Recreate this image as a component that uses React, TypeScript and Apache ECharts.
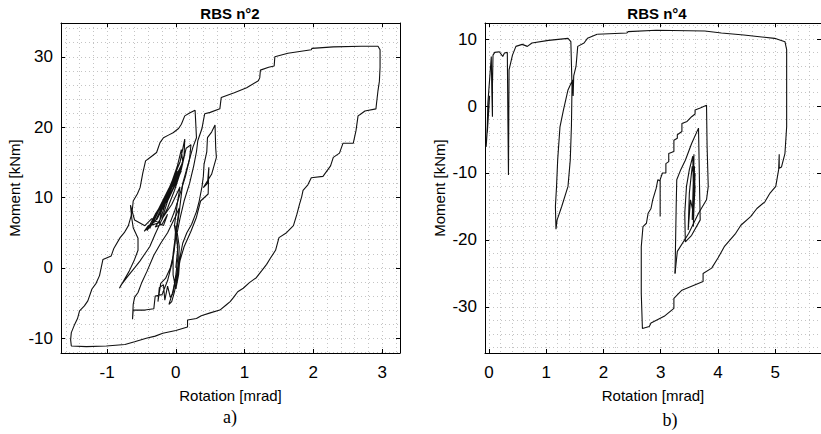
import React, { useEffect, useRef } from 'react';
import * as echarts from 'echarts';

// ---------- RBS n°2 (left) : [rotation mrad, moment kNm] ----------
const rbs2EarlyCycles: number[][] = [
  [0, 0], [0.03, 3], [-0.02, 6], [0.02, 9], [0.06, 11.5], [-0.06, 9], [-0.2, 7], [-0.12, 9.5],
  [0.0, 12], [0.08, 13.8], [-0.08, 10.5], [-0.28, 6.8], [-0.2, 8.5], [-0.06, 11.5], [0.04, 13.2],
  [0.1, 14.8], [-0.04, 12], [-0.18, 9.6], [-0.34, 6.2], [-0.28, 7.6], [-0.14, 10.2], [-0.02, 12.6],
  [0.08, 14.3], [-0.1, 11.3], [-0.26, 8.2], [-0.38, 5.6], [-0.3, 7.2], [-0.18, 9.4], [-0.06, 12.2],
  [0.06, 15], [0.13, 18.3], [0.12, 16], [0.04, 13], [-0.12, 10.4], [-0.3, 7.6], [-0.42, 5.3],
  [-0.34, 6.4], [-0.22, 8.8], [-0.1, 11], [0.02, 13.8], [-0.14, 10], [-0.3, 6.6], [-0.4, 6.0],
  [-0.46, 5.2], [-0.38, 6.0], [-0.24, 6.4], [-0.2, 8.6], [-0.08, 11.6], [0.02, 14.4], [0.08, 16.8],
  [0.1, 15], [0.0, 13], [-0.16, 10], [-0.24, 8.2], [-0.16, 9.0], [-0.04, 11.8], [0.04, 13.6],
  [-0.1, 10.8], [-0.22, 7.0], [-0.3, 5.8], [-0.2, 6.2], [-0.12, 7.6], [-0.18, 6.0], [-0.35, 7],
  [-0.45, 6.0], [-0.6, 6.8], [-0.66, 8.9],
  [-0.64, 7.0], [-0.62, 5.7], [-0.55, 4.2], [-0.55, 2.5], [-0.6, 1.2], [-0.68, -0.5], [-0.74, -1.5],
  [-0.82, -2.9], [-0.8, -2.5], [-0.7, -1.2], [-0.6, 0], [-0.52, 1.0], [-0.45, 2.0], [-0.38, 3.0],
  [-0.3, 4.8], [-0.22, 6.5], [-0.12, 8.5], [-0.02, 11], [0.08, 14], [0.15, 17], [0.22, 17.5],
  [0.2, 15.5], [0.1, 12], [0.05, 8], [0.0, 4.5], [-0.03, 2], [-0.08, 0],
];

const rbs2LowerCycles: number[][] = [
  [-0.08, 0], [-0.15, -1.5], [-0.22, -2.2], [-0.26, -4.8], [-0.24, -2.8], [-0.18, -2.4],
  [-0.16, -4.6], [-0.12, -2.6], [-0.08, -4.2], [-0.04, -3.6], [0.0, -1.0], [0.03, 1.5], [0.02, 3.5],
  [0.0, 6], [-0.02, 3], [-0.06, 0.5], [-0.12, -1.8], [-0.2, -3.8], [-0.3, -4.0], [-0.32, -5.8],
  [-0.45, -6.0], [-0.62, -6.0], [-0.63, -7.3], [-0.62, -5.2], [-0.6, -4.2], [-0.55, -3.5],
  [-0.5, -2.2], [-0.42, -0.5], [-0.32, 1.8], [-0.22, 3.5], [-0.12, 5], [-0.02, 7], [0.05, 8.5],
  [0.0, 5], [-0.04, 2], [-0.04, -1], [0.0, -3],
];

const rbs2MediumCycle: number[][] = [
  [0.0, -3], [0.04, -1], [0.06, 1.5], [0.1, 3.5], [0.16, 5], [0.23, 6.2], [0.3, 8], [0.34, 9.5],
  [0.38, 11.5], [0.4, 13], [0.41, 14.7], [0.45, 16.5], [0.46, 18.5], [0.52, 19.3], [0.57, 20.3],
  [0.58, 17], [0.59, 15.7], [0.52, 13.3], [0.4, 11.4], [0.46, 12], [0.48, 14.3], [0.47, 10.5],
  [0.36, 9.5], [0.3, 7.2], [0.22, 5.2], [0.12, 3.0], [0.06, 1.0], [0.02, -1.2], [-0.02, -3.4],
  [-0.06, -4.8], [-0.1, -5.2], [-0.05, -3.6], [0.0, -1.5], [0.04, 0.8], [0.05, 3.0], [0.02, 5.0],
];

const rbs2LargeCycle: number[][] = [
  [0.02, 5.0], [0.06, 7], [0.12, 9.5], [0.2, 12], [0.26, 14.5], [0.3, 16.5], [0.32, 18.1],
  [0.38, 19.8], [0.4, 20.9], [0.42, 21.9], [0.5, 22.1], [0.64, 22.6], [0.66, 24.2], [0.85, 24.9],
  [1.03, 25.6], [1.2, 26.6], [1.22, 27.0], [1.23, 28.1], [1.35, 28.5], [1.43, 28.7], [1.44, 30.0],
  [1.63, 30.5], [1.97, 31.0], [1.98, 31.2], [2.29, 31.4], [2.7, 31.5], [2.94, 31.5], [2.97, 31.0],
  [2.97, 28.5], [2.96, 26.5], [2.94, 25.2], [2.92, 23.5], [2.91, 22.6], [2.75, 22.3], [2.68, 21.8],
  [2.65, 21.6], [2.62, 19.5], [2.58, 17.7], [2.43, 17.7], [2.38, 16.3], [2.29, 15.7], [2.25, 14.5],
  [2.14, 13.0], [1.97, 12.8], [1.92, 11.8], [1.85, 11.0], [1.83, 10.1], [1.80, 9.1], [1.76, 7.6],
  [1.71, 6.0], [1.61, 5.0], [1.5, 4.3], [1.45, 2.5], [1.37, 1.3], [1.32, 0.5], [1.25, -0.4],
  [1.17, -1.4], [1.07, -2.1], [0.98, -2.9], [0.9, -3.4], [0.84, -4.2], [0.79, -4.8], [0.74, -5.2],
  [0.64, -6.0], [0.5, -6.4], [0.37, -6.8], [0.3, -7.2], [0.17, -7.4], [0.17, -8.4], [0.0, -8.9],
  [-0.19, -9.3], [-0.3, -9.7], [-0.43, -10.0], [-0.6, -10.5], [-0.74, -10.9], [-1.01, -11.1],
  [-1.3, -11.2], [-1.52, -11.1], [-1.53, -10.2], [-1.52, -9.2], [-1.47, -8.0], [-1.43, -7.2],
  [-1.40, -6.1], [-1.33, -5.4], [-1.28, -4.7], [-1.22, -3.0], [-1.16, -2.2], [-1.11, -1.1],
  [-1.06, 1.2], [-0.94, 1.7], [-0.9, 2.8], [-0.81, 4.3], [-0.75, 5.0], [-0.69, 6.0], [-0.65, 7.4],
  [-0.63, 8.5], [-0.62, 9.5], [-0.56, 10.5], [-0.52, 11.4], [-0.48, 13.5], [-0.44, 15.2],
  [-0.36, 15.8], [-0.28, 16.4], [-0.23, 17.8], [-0.18, 18.5], [-0.1, 18.9], [-0.04, 19.2],
  [0.04, 19.8], [0.08, 20.4], [0.13, 21.6], [0.2, 22.0], [0.28, 22.4], [0.29, 20.5], [0.30, 18.5],
  [0.25, 17.2], [0.2, 15.5], [0.14, 13], [0.06, 10.5], [-0.02, 8], [-0.08, 6.5],
];

// ---------- RBS n°4 (right) ----------
const rbs4FirstCycles: number[][] = [
  [0, 0], [-0.03, -4], [0.01, 1.5], [-0.05, -6.1], [-0.03, -3], [-0.02, 0.4], [0.01, 3.9],
  [0.04, 7.4], [0.05, 2], [0.06, -1.6], [0.06, 3], [0.07, 7.6], [0.10, 8.0], [0.18, 8.1],
  [0.24, 7.4], [0.27, 7.9], [0.32, 8.0], [0.33, -2], [0.34, -10.3], [0.35, 5.4], [0.41, 7.6],
  [0.47, 8.9], [0.58, 9.2], [0.67, 8.9], [0.75, 9.4], [1.04, 9.8], [1.38, 10.1], [1.43, 9.6],
  [1.45, 2.9], [1.44, -3], [1.42, -8], [1.38, -12], [1.27, -15], [1.19, -17], [1.17, -18.4],
  [1.16, -15], [1.18, -12], [1.2, -8], [1.24, -3.1], [1.30, -0.6], [1.38, 2.4], [1.46, 3.9],
  [1.47, 1.5], [1.48, 4.5], [1.52, 5.9], [1.55, 8.9], [1.66, 9.4], [1.72, 10.1], [1.89, 10.7],
];

const rbs4LargeCycle: number[][] = [
  [1.89, 10.7], [2.41, 10.9], [2.43, 11.1], [2.92, 11.3], [3.77, 11.2], [4.06, 10.9], [4.45, 10.6],
  [4.99, 10.1], [5.17, 9.6], [5.20, 8.4], [5.20, -3.1], [5.17, -7.1], [5.11, -9.1], [5.07, -9.3],
  [5.07, -7.2], [5.06, -9.5], [5.01, -12.0], [4.91, -13.0], [4.82, -14.3], [4.68, -15.3],
  [4.57, -16.5], [4.40, -17.8], [4.31, -19.0], [4.11, -21.0], [4.00, -22.7], [3.89, -24.2],
  [3.74, -25.0], [3.74, -26.2], [3.37, -27.5], [3.23, -28.7], [3.23, -30.2], [3.06, -31.4],
  [2.83, -32.4], [2.80, -32.9], [2.68, -33.2], [2.66, -28], [2.66, -21.0], [2.69, -18.0],
  [2.75, -17.5], [2.78, -16.0], [2.83, -15.3], [2.86, -14.0], [2.92, -12.3], [2.95, -11.0],
  [2.99, -11.2], [2.99, -16.5], [2.99, -11], [3.03, -10.0], [3.09, -10.0], [3.09, -8.6],
  [3.14, -8.3], [3.14, -7.1], [3.23, -6.8], [3.23, -5.1], [3.29, -4.8], [3.29, -4.3], [3.37, -3.8],
  [3.37, -2.6], [3.46, -2.3], [3.54, -1.6], [3.60, -1.2], [3.60, -0.6], [3.69, -0.3],
  [3.80, 0.1], [3.81, -6], [3.83, -12.0], [3.80, -14.0], [3.66, -16.0], [3.49, -19.0],
  [3.29, -21.7], [3.25, -25.0],
];

const rbs4InnerCycles: number[][] = [
  [3.25, -25.0], [3.26, -20], [3.27, -15], [3.28, -11], [3.35, -9.5], [3.43, -8.1], [3.54, -5.6],
  [3.66, -3.3], [3.67, -8], [3.68, -13], [3.69, -17.0], [3.54, -19.3], [3.43, -20.3], [3.42, -16],
  [3.45, -12], [3.5, -9.5], [3.56, -7.5], [3.57, -12], [3.56, -16.5], [3.58, -8], [3.55, -17],
  [3.59, -9], [3.57, -18], [3.6, -10], [3.56, -15], [3.58, -7.2], [3.57, -16], [3.52, -14],
  [3.48, -18.5], [3.5, -13], [3.55, -9], [3.6, -12], [3.57, -17],
];

const FONT = '"Liberation Sans", Arial, Helvetica, sans-serif';
const GRID_COLOR = '#c4c4c4';

function bottomAxis(grid: number, min: number, max: number) {
  return {
    type: 'value', gridIndex: grid, min, max, splitNumber: 5, position: 'bottom',
    name: 'Rotation [mrad]', nameLocation: 'middle', nameGap: 35,
    nameTextStyle: { fontFamily: FONT, fontSize: 15, color: '#000' },
    axisLine: { show: true, onZero: false, lineStyle: { color: '#000', width: 1 } },
    axisTick: { show: true, inside: true, length: 4, lineStyle: { color: '#000' } },
    axisLabel: { show: true, margin: 11, fontFamily: FONT, fontSize: 17, color: '#000', showMinLabel: false, showMaxLabel: false },
    splitLine: { show: true, lineStyle: { color: GRID_COLOR, width: 1, type: [1, 3] } },
    minorTick: { show: false, splitNumber: 5 },
    minorSplitLine: { show: true, lineStyle: { color: GRID_COLOR, width: 1, type: [1, 3] } },
  };
}
function topAxis(grid: number, min: number, max: number) {
  return {
    type: 'value', gridIndex: grid, min, max, splitNumber: 5, position: 'top',
    axisLine: { show: true, onZero: false, lineStyle: { color: '#000', width: 1 } },
    axisTick: { show: true, inside: true, length: 4, lineStyle: { color: '#000' } },
    axisLabel: { show: false }, splitLine: { show: false },
  };
}
function leftAxis(grid: number, min: number, max: number, gap: number) {
  return {
    type: 'value', gridIndex: grid, min, max, splitNumber: 5, position: 'left',
    name: 'Moment [kNm]', nameLocation: 'middle', nameGap: gap,
    nameTextStyle: { fontFamily: FONT, fontSize: 15, color: '#000' },
    axisLine: { show: true, onZero: false, lineStyle: { color: '#000', width: 1 } },
    axisTick: { show: true, inside: true, length: 4, lineStyle: { color: '#000' } },
    axisLabel: { show: true, margin: 8, fontFamily: FONT, fontSize: 17, color: '#000', showMinLabel: false, showMaxLabel: false },
    splitLine: { show: true, lineStyle: { color: GRID_COLOR, width: 1, type: [1, 3] } },
    minorTick: { show: false, splitNumber: 5 },
    minorSplitLine: { show: true, lineStyle: { color: GRID_COLOR, width: 1, type: [1, 3] } },
  };
}
function rightAxis(grid: number, min: number, max: number) {
  return {
    type: 'value', gridIndex: grid, min, max, splitNumber: 5, position: 'right',
    axisLine: { show: true, onZero: false, lineStyle: { color: '#000', width: 1 } },
    axisTick: { show: true, inside: true, length: 4, lineStyle: { color: '#000' } },
    axisLabel: { show: false }, splitLine: { show: false },
  };
}
function curve(data: number[][], axis: number) {
  return {
    type: 'line', data, xAxisIndex: axis, yAxisIndex: axis, showSymbol: false, symbol: 'none',
    silent: true, clip: true, lineStyle: { color: '#111', width: 1.1 },
  };
}

export default function App() {
  const ref = useRef<HTMLDivElement>(null);
  useEffect(() => {
    if (!ref.current) return;
    const chart = echarts.init(ref.current, null, { renderer: 'svg' });
    const text = (t: string, x: number, y: number, font: string) => ({
      type: 'text', x, y, silent: true,
      style: { text: t, font, fill: '#000', align: 'center', verticalAlign: 'middle', textAlign: 'center', textVerticalAlign: 'middle' },
    });
    chart.setOption({
      animation: false,
      backgroundColor: '#fff',
      grid: [
        { left: 61, top: 23, width: 339, height: 330, containLabel: false },
        { left: 485, top: 23, width: 344, height: 330, containLabel: false },
      ],
      xAxis: [
        bottomAxis(0, -1.67, 3.26), topAxis(0, -1.67, 3.26),
        bottomAxis(1, -0.07, 5.8), topAxis(1, -0.07, 5.8),
      ],
      yAxis: [
        leftAxis(0, -12.1, 34.8, 39), rightAxis(0, -12.1, 34.8),
        leftAxis(1, -36.87, 12.39, 38), rightAxis(1, -36.87, 12.39),
      ],
      series: [
        curve(rbs2EarlyCycles, 0), curve(rbs2LowerCycles, 0), curve(rbs2MediumCycle, 0), curve(rbs2LargeCycle, 0),
        curve(rbs4FirstCycles, 2), curve(rbs4LargeCycle, 2), curve(rbs4InnerCycles, 2),
      ],
      graphic: [
        text('RBS n°2', 230, 13, `bold 15px ${FONT}`),
        text('RBS n°4', 657, 13, `bold 15px ${FONT}`),
        text('a)', 230, 417, '18px "Liberation Serif", "Times New Roman", serif'),
        text('b)', 670, 420, '18px "Liberation Serif", "Times New Roman", serif'),
      ],
    });
    return () => chart.dispose();
  }, []);
  return <div ref={ref} style={{ position: 'absolute', left: 0, top: 0, width: 821, height: 434, background: '#fff' }} />;
}
